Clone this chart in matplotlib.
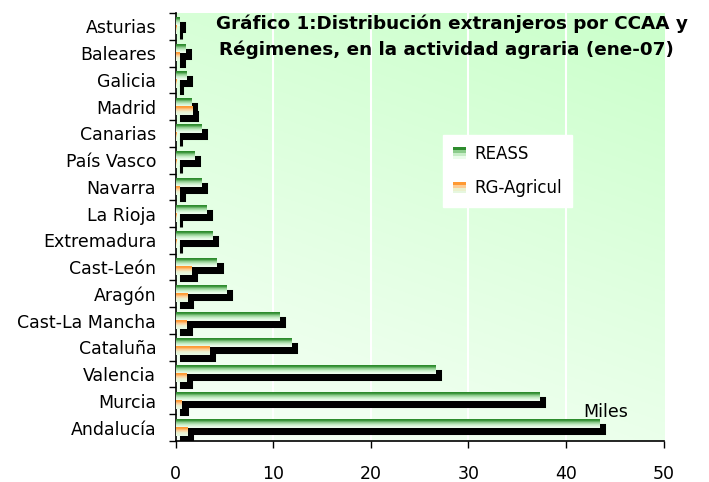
import numpy as np
import matplotlib
matplotlib.use("Agg")
import matplotlib.pyplot as plt
from matplotlib.transforms import ScaledTranslation
from matplotlib.patches import Rectangle
from matplotlib.legend_handler import HandlerBase

# data (miles), bottom to top
regiones = ["Andalucía", "Murcia", "Valencia", "Cataluña", "Cast-La Mancha",
            "Aragón", "Cast-León", "Extremadura", "La Rioja", "Navarra",
            "País Vasco", "Canarias", "Madrid", "Galicia", "Baleares", "Asturias"]
reass = [43.4, 37.2, 26.6, 11.8, 10.6, 5.15, 4.2, 3.7, 3.1, 2.6,
         1.9, 2.6, 1.6, 1.05, 0.95, 0.35]
rg_agricul = [1.15, 0.6, 1.05, 3.4, 1.05, 1.15, 1.55, 0.05, 0.05, 0.35,
              0.05, 0.05, 1.65, 0.1, 0.35, 0.05]
xticks = [0, 10, 20, 30, 40, 50]

green_grad = [(0.18, 0.55, 0.18), (0.55, 0.80, 0.55), (0.78, 0.93, 0.78), (0.92, 0.99, 0.92)]
orange_grad = [(1.0, 0.60, 0.20), (0.99, 0.80, 0.58), (0.92, 0.94, 0.80), (0.90, 0.97, 0.88)]

fig = plt.figure(figsize=(7.09, 4.82), dpi=100)
ax = fig.add_axes([0.2478, 0.0851, 0.9361 - 0.2478, 0.973 - 0.0851])

# background gradient
gx, gy = np.meshgrid(np.linspace(0, 1, 200), np.linspace(1, 0, 200))
t = np.clip(0.75 * gy + 0.3 * gx, 0, 1)[..., None]
light = np.array([0.97, 1.0, 0.97])
dark = np.array([0.80, 1.0, 0.80])
bg = light * (1 - t) + dark * t
ax.imshow(bg, extent=[0, 1, 0, 1], transform=ax.transAxes, aspect="auto", zorder=0)

for x in xticks[1:-1]:
    ax.axvline(x, color="white", lw=1.5, zorder=1)

y = np.arange(len(regiones))
h = 0.3
shadow = ax.transData + ScaledTranslation(0.05, -0.05, fig.dpi_scale_trans)
for vals, off in [(reass, h / 2), (rg_agricul, -h / 2)]:
    ax.barh(y + off, vals, height=h, color="black", edgecolor="black",
            lw=2.2, transform=shadow, zorder=2)

for vals, off, grad in [(reass, h / 2, green_grad), (rg_agricul, -h / 2, orange_grad)]:
    bars = ax.barh(y + off, vals, height=h, color=grad[2], lw=0, zorder=3)
    img = np.array(grad)[:, None, :]
    for b in bars:
        ax.imshow(img, extent=[b.get_x(), b.get_x() + b.get_width(),
                               b.get_y(), b.get_y() + b.get_height()],
                  aspect="auto", interpolation="bilinear", zorder=4)

ax.set_xlim(0, 50)
ax.set_ylim(-0.5, len(regiones) - 0.5)
ax.set_xticks(xticks)
ax.set_yticks(y)
ax.set_yticklabels(regiones)
ax.set_yticks(np.arange(-0.5, len(regiones)), minor=True)
ax.tick_params(axis="y", which="major", length=0, pad=14, labelsize=12.5)
ax.tick_params(axis="y", which="minor", length=5, width=1)
ax.tick_params(axis="x", length=5, width=1, pad=12, labelsize=12.5)
for s in ["top", "right"]:
    ax.spines[s].set_visible(False)
ax.spines["left"].set_linewidth(1.2)
ax.spines["bottom"].set_linewidth(1.2)


class GradHandler(HandlerBase):
    def __init__(self, colors):
        super().__init__()
        self.colors = colors

    def create_artists(self, legend, orig_handle, xdescent, ydescent,
                       width, height, fontsize, trans):
        n = len(self.colors)
        out = []
        for i, c in enumerate(self.colors):
            r = Rectangle((-xdescent, -ydescent + height * (n - 1 - i) / n),
                          width, height / n, facecolor=c, lw=0, transform=trans)
            out.append(r)
        return out


h1 = Rectangle((0, 0), 1, 1)
h2 = Rectangle((0, 0), 1, 1)
leg = ax.legend([h1, h2], ["REASS", "RG-Agricul"],
                handler_map={h1: GradHandler(green_grad), h2: GradHandler(orange_grad)},
                loc="upper left", bbox_to_anchor=(0.53, 0.735), fontsize=12,
                frameon=True, fancybox=False, edgecolor="white", framealpha=1,
                handlelength=0.8, handleheight=0.7, labelspacing=1.0,
                handletextpad=0.5, borderpad=0.6)
leg.set_zorder(6)

ax.text(0.566, 0.976, "Gráfico 1:Distribución extranjeros por CCAA y",
        transform=ax.transAxes, ha="center", va="center", fontsize=13.2,
        fontweight="bold", zorder=7)
ax.text(0.555, 0.913, "Régimenes, en la actividad agraria (ene-07)",
        transform=ax.transAxes, ha="center", va="center", fontsize=13.2,
        fontweight="bold", zorder=7)
ax.text(0.882, 0.068, "Miles", transform=ax.transAxes, ha="center", va="center",
        fontsize=12.5, zorder=7)

fig.savefig("out.png", dpi=100)
